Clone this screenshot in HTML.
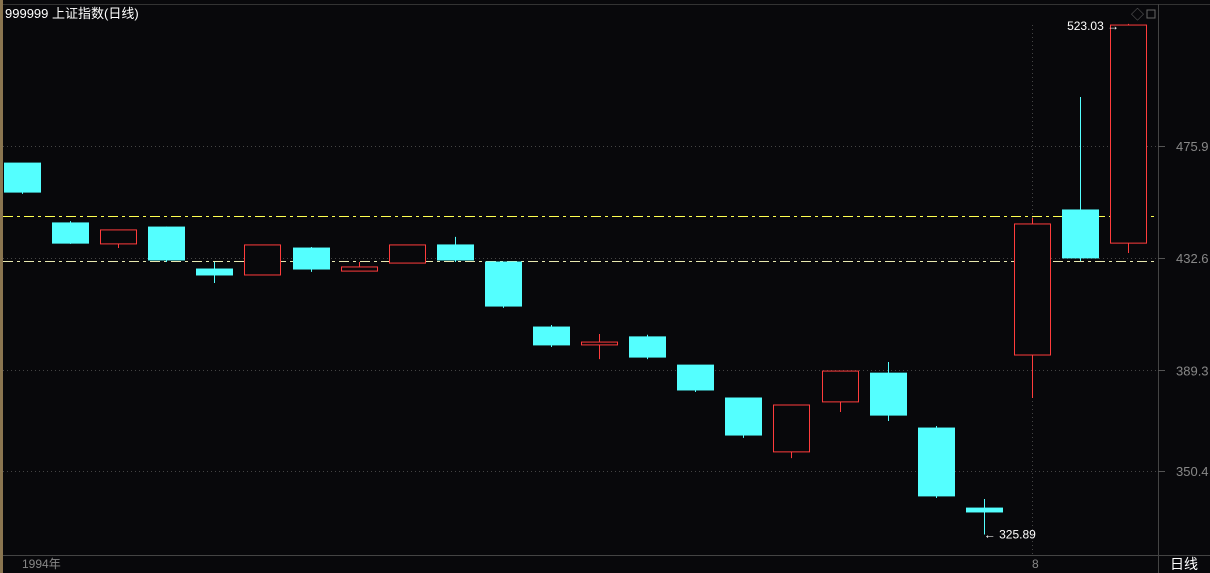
<!DOCTYPE html>
<html><head><meta charset="utf-8"><style>
html,body{margin:0;padding:0;background:#08080b;}
svg{display:block;font-family:"Liberation Sans","Noto Sans CJK SC",sans-serif;}
</style></head><body>
<svg id="c" width="1210" height="573" xmlns="http://www.w3.org/2000/svg">
<rect x="0" y="0" width="1210" height="573" fill="#08080b"/>
<rect x="0" y="0" width="3" height="573" fill="#8a7550"/>
<line x1="3" y1="4.5" x2="1210" y2="4.5" stroke="#333"/>
<line x1="1158.5" y1="4" x2="1158.5" y2="573" stroke="#444"/>
<line x1="3" y1="555.5" x2="1210" y2="555.5" stroke="#444"/>
<line x1="1032.5" y1="25" x2="1032.5" y2="555" stroke="#444" stroke-dasharray="1,3"/>
<text x="5" y="18" fill="#fff" font-size="13">999999 上证指数(日线)</text>
<text x="1131" y="19" fill="#666" font-size="13">◇</text>
<rect x="1147" y="10" width="8" height="8" fill="none" stroke="#666"/>
<text x="22" y="568" fill="#888" font-size="12">1994年</text>
<text x="1032" y="568" fill="#888" font-size="12">8</text>
<text x="1170" y="569" fill="#fff" font-size="14">日线</text>
<g id="grid"></g><g id="marks"></g>
</svg>
<script>
const yTicks=[475.9,432.6,389.3,350.4];
const opens =[469.3,446.2,438.1,444.6,428.4,426.1,436.5,427.6,430.7,437.7,431.1,406.0,399.1,402.2,391.3,378.6,357.8,377.1,388.2,367.0,336.1,395.2,451.2,438.4];
const closes=[458.1,438.4,443.5,431.9,426.1,437.7,428.4,429.2,437.7,431.9,414.1,399.1,400.2,394.4,381.7,364.3,375.9,389.0,372.0,340.8,334.6,445.8,432.7,522.6];
const highs =[469.3,446.9,443.5,444.8,431.1,437.7,436.9,431.1,437.7,440.8,431.1,406.8,403.3,403.0,391.3,378.6,375.9,389.0,392.5,367.8,339.6,448.1,494.8,523.03];
const lows  =[457.4,438.1,436.5,431.1,423.0,426.1,427.3,427.6,430.7,431.1,413.4,398.3,393.6,393.6,380.9,363.2,355.4,373.2,369.7,340.0,325.89,378.6,431.5,434.6];
const refLines=[448.9,431.5];
const maxLabel="523.03", minLabel="325.89";
const NS="http://www.w3.org/2000/svg";
function y(v){return 146+(475.9-v)*2.59;}
function x(i){return 22+i*48.09;}
function mk(t,a,p){const e=document.createElementNS(NS,t);for(const k in a)e.setAttribute(k,a[k]);p.appendChild(e);return e;}
const g=document.getElementById('grid'),m=document.getElementById('marks');
yTicks.forEach(v=>{
  const l=mk('line',{x1:3,x2:1158,y1:Math.round(y(v))+0.5,y2:Math.round(y(v))+0.5,stroke:'#444','stroke-dasharray':'1,3'},g);
  
  
  const tk=mk('line',{x1:1158,x2:1165,y1:Math.round(y(v))+0.5,y2:Math.round(y(v))+0.5,stroke:'#555'},g);
  
  
  const t=mk('text',{x:1176,y:y(v)+5,fill:'#888','font-size':13},g);t.textContent=v.toFixed(1);
  
  
});
refLines.forEach((v,i)=>{
  const l=mk('line',{x1:3,x2:1158,y1:Math.round(y(v))+0.5,y2:Math.round(y(v))+0.5,stroke:i?'#e8e8b0':'#ffff50','stroke-dasharray':'10,4,3,4'},g);
  
  
});
for(let i=0;i<opens.length;i++){
  const up=closes[i]>=opens[i],col=up?'#ff3c3c':'#54ffff',cx=Math.round(x(i))+0.5;
  const w=mk('line',{x1:cx,x2:cx,y1:y(highs[i]),y2:y(lows[i]),stroke:col},m);
  
  
  const top=y(Math.max(opens[i],closes[i])),bot=y(Math.min(opens[i],closes[i]));
  const r=mk('rect',{x:Math.round(x(i))-18+0.5,y:top,width:36,height:Math.max(bot-top,1.5),fill:up?'#08080b':col,stroke:col},m);
  
  
}
const hi=mk('text',{x:x(23)-61,y:y(523.03)+6,fill:'#fff','font-size':12},m);hi.textContent=maxLabel+' →';


const lo=mk('text',{x:x(20),y:y(325.89)+4,fill:'#fff','font-size':12},m);lo.textContent='← '+minLabel;


</script>
</body></html>
